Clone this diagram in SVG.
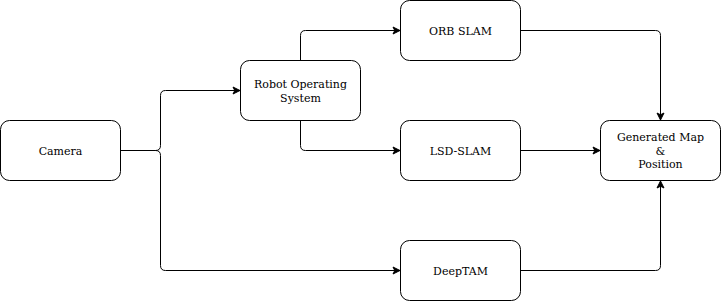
<svg xmlns="http://www.w3.org/2000/svg" width="721" height="301" viewBox="0 0 721 301">
  <defs>
    <style>
      .box { fill: #ffffff; stroke: #000000; stroke-width: 1; }
      .lbl { font-family: "DejaVu Serif", "Liberation Serif", serif; font-size: 11px; fill: #000000; text-anchor: middle; }
      .edge { fill: none; stroke: #000000; stroke-width: 1; }
    </style>
    <marker id="arrow" markerUnits="userSpaceOnUse" markerWidth="9" markerHeight="9" refX="8" refY="4.5" orient="auto">
      <path d="M1,1 L8,4.5 L1,8 L2.75,4.5 Z" fill="#000000" stroke="#000000" stroke-width="1"/>
    </marker>
  </defs>

  <rect width="721" height="301" fill="#ffffff"/>

  <!-- connectors -->
  <g id="edges">
    <!-- Camera to ROS -->
    <path class="edge" marker-end="url(#arrow)" d="M120.5,150.5 L155.5,150.5 Q160.5,150.5 160.5,145.5 L160.5,95.5 Q160.5,90.5 165.5,90.5 L240,90.5"/>
    <!-- Camera to DeepTAM -->
    <path class="edge" marker-end="url(#arrow)" d="M120.5,150.5 L155.5,150.5 Q160.5,150.5 160.5,155.5 L160.5,265.5 Q160.5,270.5 165.5,270.5 L400,270.5"/>
    <!-- ROS to ORB SLAM -->
    <path class="edge" marker-end="url(#arrow)" d="M300.5,60.5 L300.5,35.5 Q300.5,30.5 305.5,30.5 L400,30.5"/>
    <!-- ROS to LSD-SLAM -->
    <path class="edge" marker-end="url(#arrow)" d="M300.5,120.5 L300.5,145.5 Q300.5,150.5 305.5,150.5 L400,150.5"/>
    <!-- ORB SLAM to result -->
    <path class="edge" marker-end="url(#arrow)" d="M520.5,30.5 L655.5,30.5 Q660.5,30.5 660.5,35.5 L660.5,120"/>
    <!-- LSD-SLAM to result -->
    <path class="edge" marker-end="url(#arrow)" d="M520.5,150.5 L600,150.5"/>
    <!-- DeepTAM to result -->
    <path class="edge" marker-end="url(#arrow)" d="M520.5,270.5 L655.5,270.5 Q660.5,270.5 660.5,265.5 L660.5,181"/>
  </g>

  <g id="camera">
    <rect class="box" x="0.5" y="120.5" width="120" height="60" rx="9" ry="9"/>
    <text class="lbl" x="60.5" y="154.5">Camera</text>
  </g>

  <g id="ros">
    <rect class="box" x="240.5" y="60.5" width="120" height="60" rx="9" ry="9"/>
    <text class="lbl" x="300.5" y="87.5">Robot Operating</text>
    <text class="lbl" x="300.5" y="101.5">System</text>
  </g>

  <g id="orb-slam">
    <rect class="box" x="400.5" y="0.5" width="120" height="60" rx="9" ry="9"/>
    <text class="lbl" x="460.5" y="34.5">ORB SLAM</text>
  </g>

  <g id="lsd-slam">
    <rect class="box" x="400.5" y="120.5" width="120" height="60" rx="9" ry="9"/>
    <text class="lbl" x="460.5" y="154.5">LSD-SLAM</text>
  </g>

  <g id="deeptam">
    <rect class="box" x="400.5" y="240.5" width="120" height="60" rx="9" ry="9"/>
    <text class="lbl" x="460.5" y="274.5">DeepTAM</text>
  </g>

  <g id="map-position">
    <rect class="box" x="600.5" y="120.5" width="120" height="60" rx="9" ry="9"/>
    <text class="lbl" x="660.5" y="141">Generated Map</text>
    <text class="lbl" x="660.5" y="154.5">&amp;</text>
    <text class="lbl" x="660.5" y="168">Position</text>
  </g>
</svg>
